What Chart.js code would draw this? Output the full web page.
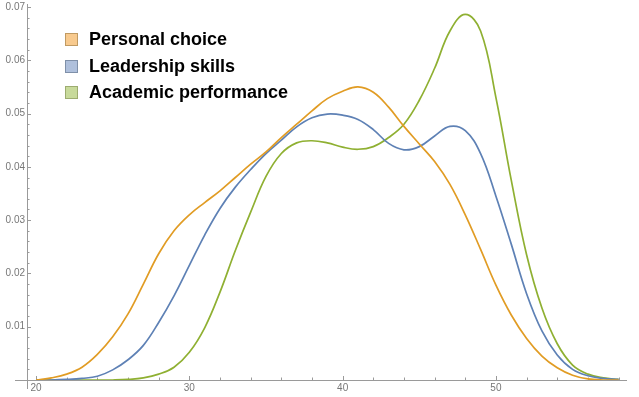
<!DOCTYPE html>
<html lang="en">
<head>
  <meta charset="UTF-8">
  <title>Density comparison</title>
  <script src="https://cdn.jsdelivr.net/npm/chart.js"></script>
  <style>
    body { margin: 0; background: #fff; }
    #wrap { position: relative; width: 639px; height: 397px; }
    #legend { position: absolute; left: 65px; top: 26.5px; font-family: "Liberation Sans", Arial, sans-serif; font-weight: bold; font-size: 18px; color: #000; }
    #legend .row { display: flex; align-items: center; height: 26.5px; }
    #legend .sw { width: 11px; height: 11px; margin-right: 11px; box-sizing: content-box; }
  </style>
</head>
<body>
<div id="wrap">
  <canvas id="myChart"></canvas>
  <div id="legend"></div>
</div>

<script>
  // x positions (age) and smoothed density values
  const xValues = [20, 21, 22, 23, 24, 25, 26, 27, 28, 29, 30, 31, 32, 33, 34, 35, 36, 37, 38, 39,
                   40, 41, 42, 43, 44, 45, 46, 47, 48, 49, 50, 51, 52, 53, 54, 55, 56, 57, 58];
  const personalChoice = [0, 0.0004, 0.0011, 0.0024, 0.0048, 0.0081, 0.0124, 0.018, 0.0237, 0.028,
                          0.031, 0.0333, 0.0355, 0.038, 0.0405, 0.0428, 0.0455, 0.048, 0.0505, 0.0528,
                          0.0542, 0.055, 0.054, 0.0512, 0.0476, 0.0443, 0.041, 0.0367, 0.031, 0.0245,
                          0.0178, 0.0122, 0.0078, 0.0045, 0.0023, 0.0009, 0.0002, 0, 0];
  const leadershipSkills = [0, 0, 0.0001, 0.0003, 0.0007, 0.0019, 0.0038, 0.0065, 0.0108, 0.0158,
                            0.0215, 0.0272, 0.0322, 0.0362, 0.0395, 0.0425, 0.045, 0.0475, 0.0492, 0.0499,
                            0.0497, 0.0489, 0.047, 0.0444, 0.0432, 0.0438, 0.0458, 0.0476, 0.0468, 0.0425,
                            0.0345, 0.0255, 0.0162, 0.0092, 0.0047, 0.002, 0.0008, 0.0003, 0.0001];
  const academicPerformance = [0, 0, 0, 0, 0, 0, 0.0001, 0.0004, 0.0011, 0.0024,
                               0.0052, 0.0098, 0.0165, 0.0243, 0.0315, 0.0382, 0.0425, 0.0445, 0.0449, 0.0445,
                               0.0437, 0.0433, 0.0438, 0.0455, 0.048, 0.0525, 0.0585, 0.0655, 0.0686, 0.0655,
                               0.053, 0.0375, 0.0235, 0.0135, 0.0068, 0.0028, 0.0011, 0.0004, 0.0001];
  const seriesNames = ['Personal choice', 'Leadership skills', 'Academic performance'];
  const xTickLabels = [20, 30, 40, 50];
  const yTickLabels = [0.01, 0.02, 0.03, 0.04, 0.05, 0.06, 0.07];

  const lineColors = ['#e19c24', '#5e81b5', '#8fb032'];
  const swatchFill = ['#f8ca8e', '#afc0dc', '#c8da9b'];
  const swatchEdge = ['#c09a62', '#7f90a9', '#9dac70'];

  const axisColor = '#9a9a9a';

  function toPoints(vals) {
    return xValues.map((x, i) => ({ x: x, y: vals[i] }));
  }

  // Mathematica-style axes: lines crossing near the origin, ticks pointing inward
  const axesPlugin = {
    id: 'axesPlugin',
    beforeDatasetsDraw(chart) {
      const ctx = chart.ctx;
      const xs = chart.scales.x;
      const ys = chart.scales.y;
      const y0 = ys.getPixelForValue(0);
      const xL = xs.left;
      ctx.save();
      ctx.strokeStyle = axisColor;
      ctx.lineWidth = 1;
      ctx.beginPath();
      ctx.moveTo(15, y0 + 0.5);
      ctx.lineTo(xs.right, y0 + 0.5);
      ctx.moveTo(xL + 0.5, 4);
      ctx.lineTo(xL + 0.5, y0 + 9);
      ctx.stroke();

      ctx.beginPath();
      for (let v = 20; v <= 58; v += 2) {
        const px = Math.round(xs.getPixelForValue(v)) + 0.5;
        const len = xTickLabels.includes(v) ? 4 : 2.5;
        ctx.moveTo(px, y0);
        ctx.lineTo(px, y0 - len);
      }
      for (let k = 1; k <= 35; k++) {
        const v = k * 0.002;
        const py = Math.round(ys.getPixelForValue(v)) + 0.5;
        const len = k % 5 === 0 ? 4 : 2.5;
        ctx.moveTo(xL, py);
        ctx.lineTo(xL + len, py);
      }
      ctx.stroke();
      ctx.restore();
    }
  };

  const ctx = document.getElementById('myChart').getContext('2d');
  const myChart = new Chart(ctx, {
    type: 'line',
    data: {
      datasets: [
        { label: seriesNames[0], data: toPoints(personalChoice), borderColor: lineColors[0] },
        { label: seriesNames[1], data: toPoints(leadershipSkills), borderColor: lineColors[1] },
        { label: seriesNames[2], data: toPoints(academicPerformance), borderColor: lineColors[2] },
      ],
    },
    options: {
      responsive: true,
      maintainAspectRatio: false,
      animation: false,
      layout: { padding: { top: 5, right: 12, left: 0, bottom: 0 } },
      elements: {
        point: { radius: 0 },
        line: { borderWidth: 1.7, tension: 0.4, fill: false },
      },
      plugins: {
        legend: { display: false },
        tooltip: { enabled: false },
      },
      scales: {
        x: {
          type: 'linear',
          min: 19.41,
          max: 58.55,
          grid: { display: false, drawTicks: false },
          border: { display: false },
          afterBuildTicks: (s) => { s.ticks = xTickLabels.map((v) => ({ value: v })); },
          afterFit: (s) => { s.height = 17; },
          ticks: {
            autoSkip: false,
            maxRotation: 0,
            padding: 3,
            color: '#777',
            font: { family: '"Liberation Sans", Arial, sans-serif', size: 10, lineHeight: 1 },
            callback: (v) => String(v),
          },
        },
        y: {
          min: 0,
          max: 0.07,
          grid: { display: false, drawTicks: false },
          border: { display: false },
          afterBuildTicks: (s) => { s.ticks = yTickLabels.map((v) => ({ value: v })); },
          afterFit: (s) => { s.width = 27; },
          ticks: {
            autoSkip: false,
            padding: 2,
            color: '#777',
            font: { family: '"Liberation Sans", Arial, sans-serif', size: 10, lineHeight: 1 },
            callback: (v) => Number(v).toFixed(2),
          },
        },
      },
    },
    plugins: [axesPlugin],
  });

  // legend drawn inside the plot, top-left
  const legend = document.getElementById('legend');
  myChart.data.datasets.forEach((ds, i) => {
    const row = document.createElement('div');
    row.className = 'row';
    row.innerHTML = `<span class="sw" style="background:${swatchFill[i]};border:1px solid ${swatchEdge[i]};"></span><span>${ds.label}</span>`;
    legend.appendChild(row);
  });
</script>
</body>
</html>
